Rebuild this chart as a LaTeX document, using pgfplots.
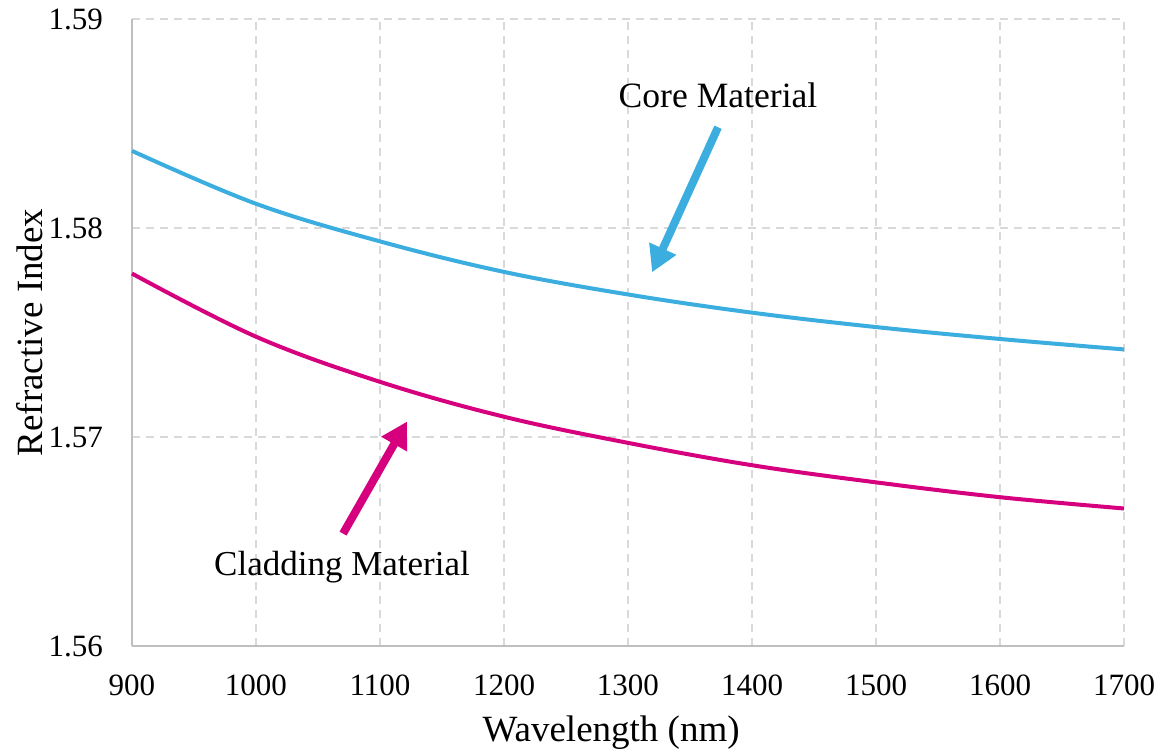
\documentclass[border=0pt]{standalone}
\usepackage{fontspec}
\setmainfont{Liberation Serif}
\usepackage{pgfplots}
\pgfplotsset{compat=1.18}
\usetikzlibrary{arrows.meta}
\definecolor{coreblue}{RGB}{59,173,222}
\definecolor{cladmag}{RGB}{214,0,127}
\definecolor{gridgray}{RGB}{217,217,217}
\definecolor{axgray}{RGB}{191,191,191}
\begin{document}
\begin{tikzpicture}
\useasboundingbox (-66pt,-52.5pt) rectangle (515pt,323pt);
\begin{axis}[
  scale only axis,
  width=496pt, height=313.5pt,
  xmin=900, xmax=1700, ymin=1.56, ymax=1.59,
  xtick={900,1000,...,1700},
  xticklabels={900,1000,1100,1200,1300,1400,1500,1600,1700},
  ytick={1.56,1.57,1.58,1.59},
  yticklabels={1.56,1.57,1.58,1.59},
  axis x line*=bottom, axis y line*=left,
  axis line style={draw=axgray, line width=1pt, -},
  major tick length=0pt,
  grid=major,
  major grid style={draw=gridgray, line width=0.75pt, dash pattern=on 4pt off 3pt},
  xticklabel style={font=\fontsize{15.5}{18}\selectfont, yshift=-11pt},
  yticklabel style={font=\fontsize{15.5}{18}\selectfont, xshift=-11pt},
  xlabel={Wavelength (nm)},
  ylabel={Refractive Index},
  every axis x label/.style={at={(axis description cs:0.483,0)}, yshift=-43.5pt, anchor=center, font=\fontsize{18.5}{22}\selectfont},
  every axis y label/.style={at={(axis description cs:-0.1028,0.5)}, rotate=90, anchor=center, font=\fontsize{18.5}{22}\selectfont},
  clip=false,
]
\addplot[coreblue, line width=2pt, smooth, tension=0.6] coordinates {
(900,1.58369) (1000,1.58116) (1100,1.57936) (1200,1.57790) (1300,1.57682)
(1400,1.57595) (1500,1.57526) (1600,1.57469) (1700,1.57419)};
\addplot[cladmag, line width=2pt, smooth, tension=0.6] coordinates {
(900,1.57782) (1000,1.57480) (1100,1.57264) (1200,1.57097) (1300,1.56972)
(1400,1.56865) (1500,1.56783) (1600,1.56712) (1700,1.56658)};
\draw[coreblue, line width=4pt, -{Triangle[length=13pt,width=14pt]}] (axis cs:1372.6,1.58482) -- (axis cs:1319.4,1.57788);
\draw[cladmag, line width=4pt, -{Triangle[length=13pt,width=14pt]}] (axis cs:1070.2,1.56538) -- (axis cs:1121.8,1.57074);
\node[font=\fontsize{17.8}{21}\selectfont, anchor=center] at (axis cs:1372.6,1.58636) {Core Material};
\node[font=\fontsize{17.5}{21}\selectfont, anchor=center] at (axis cs:1069.4,1.56375) {Cladding Material};
\end{axis}
\end{tikzpicture}
\end{document}
